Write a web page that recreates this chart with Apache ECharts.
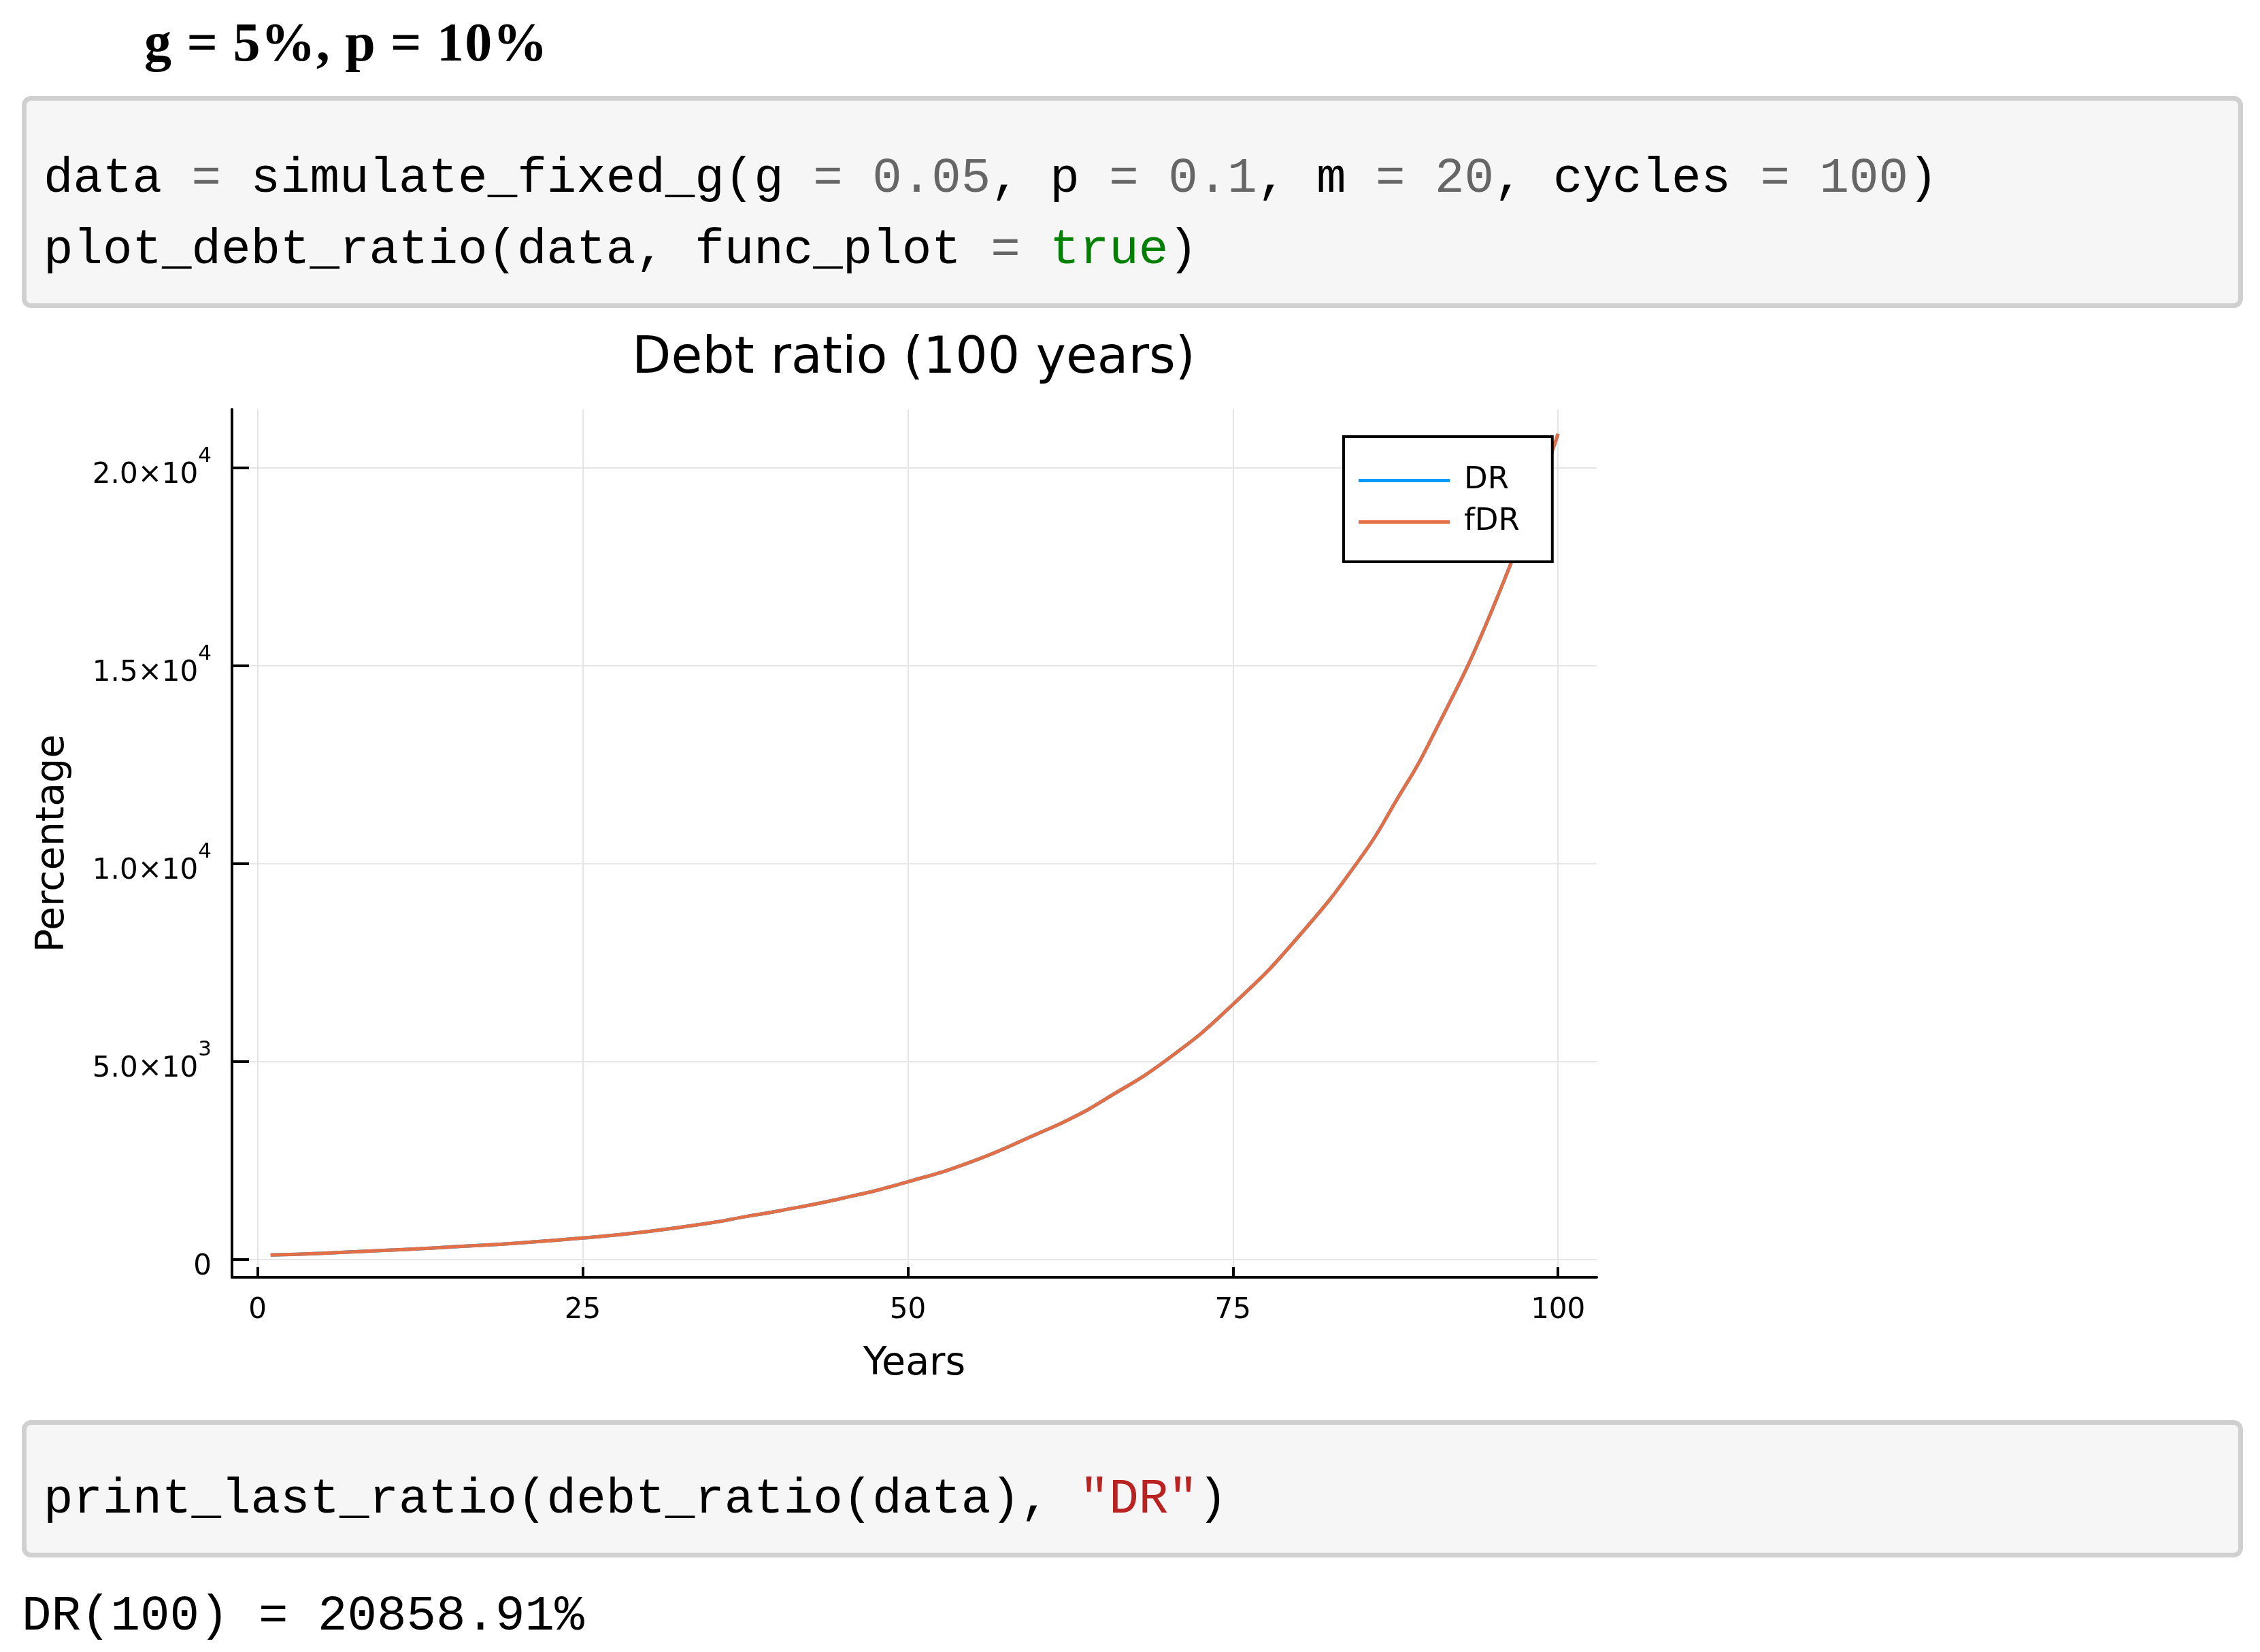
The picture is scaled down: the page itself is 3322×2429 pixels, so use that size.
<!DOCTYPE html>
<html>
<head>
<meta charset="utf-8">
<script src="https://cdn.jsdelivr.net/npm/echarts@6/dist/echarts.min.js"></script>
<style>
html, body { margin: 0; padding: 0; background: #fff; }
body { width: 3322px; height: 2429px; position: relative; overflow: hidden; }
.h { position: absolute; left: 212px; top: 22px; font: bold 80px/1 "Liberation Serif", serif; letter-spacing: 1.2px; color: #000; white-space: pre; }
.cell { position: absolute; left: 32px; width: 3251px; border: 7px solid #d0d0d0; border-radius: 14px; background: #f6f6f6; }
.code { position: absolute; left: 64px; font: 72.5px/1 "Liberation Mono", monospace; white-space: pre; color: #000; }
.op, .num { color: #666; }
.kw { color: #008000; }
.str { color: #ba2121; }
#chart { position: absolute; left: 0; top: 460px; width: 2686px; height: 1600px; }
</style>
</head>
<body>
<div class="h">g = 5%, p = 10%</div>

<div class="cell" style="top:141px;height:298px"></div>
<div class="code" style="top:227px">data <span class="op">=</span> simulate_fixed_g(g <span class="op">=</span> <span class="num">0.05</span>, p <span class="op">=</span> <span class="num">0.1</span>, m <span class="op">=</span> <span class="num">20</span>, cycles <span class="op">=</span> <span class="num">100</span>)</div>
<div class="code" style="top:332px">plot_debt_ratio(data, func_plot <span class="op">=</span> <span class="kw">true</span>)</div>

<div id="chart"></div>

<div class="cell" style="top:2088px;height:188px"></div>
<div class="code" style="top:2169px">print_last_ratio(debt_ratio(data), <span class="str">"DR"</span>)</div>
<div class="code" style="top:2341px;left:32px">DR(100) = 20858.91%</div>

<script>
// values (year -> debt ratio in %)
var years = [1, 5, 10, 12.5, 15, 20, 25, 30, 35, 37.5, 40, 45, 50, 55, 60, 62.5, 65, 70, 75, 80, 85, 87.5, 90, 95, 100];
var drValues = [110, 155, 230, 270, 316, 413, 540, 705, 930, 1080, 1220, 1546, 1960, 2480, 3179, 3552, 4010, 5065, 6443, 8140, 10230, 11560, 12990, 16467, 20859];
var fdrValues = [110, 155, 230, 270, 316, 413, 540, 705, 930, 1080, 1220, 1546, 1960, 2480, 3179, 3552, 4010, 5065, 6443, 8140, 10230, 11560, 12990, 16467, 20859];

var xTicks = [0, 25, 50, 75, 100];
var yTicks = [0, 5000, 10000, 15000, 20000];
var yTickMant = ['0', '5.0×10', '1.0×10', '1.5×10', '2.0×10'];
var yTickExp = ['', '3', '4', '4', '4'];

var FONT = 'DejaVu Sans';

function pairs(xs, ys) {
    return xs.map(function (x, i) { return [x, ys[i]]; });
}

var myChart = echarts.init(document.getElementById('chart'));
var option = {
    animation: false,
    backgroundColor: 'transparent',
    title: {
        text: 'Debt ratio (100 years)',
        left: 'center',
        top: 26,
        textStyle: { fontFamily: FONT, fontSize: 74.5, fontWeight: 'normal', color: '#000' }
    },
    legend: {
        orient: 'vertical',
        left: 1975,
        top: 182,
        data: ['DR', 'fDR'],
        icon: 'rect',
        itemWidth: 134,
        itemHeight: 5,
        itemGap: 16,
        padding: [42, 48, 36, 22],
        borderColor: '#000',
        borderWidth: 4,
        borderRadius: 0,
        backgroundColor: '#fff',
        textStyle: { fontFamily: FONT, fontSize: 45, color: '#000', lineHeight: 44, padding: [0, 0, 0, 16] }
    },
    grid: {
        left: 341,
        top: 142,
        width: 2006,
        height: 1276,
        containLabel: false,
        outerBoundsMode: 'none'
    },
    xAxis: {
        type: 'value',
        min: -1.97,
        max: 102.97,
        name: 'Years',
        nameLocation: 'middle',
        nameGap: 100,
        nameTextStyle: { fontFamily: FONT, fontSize: 57, color: '#000' },
        axisLine: { show: true, onZero: false, lineStyle: { color: '#000', width: 4 } },
        axisTick: { show: true, inside: true, length: 15, customValues: xTicks, lineStyle: { color: '#000', width: 4 } },
        axisLabel: { customValues: xTicks, margin: 28, fontFamily: FONT, fontSize: 42, color: '#000' },
        splitLine: { show: true, lineStyle: { color: '#e6e6e6', width: 2 } }
    },
    yAxis: {
        type: 'value',
        min: -452,
        max: 21475,
        name: 'Percentage',
        nameLocation: 'middle',
        nameRotate: 90,
        nameGap: 234,
        nameTextStyle: { fontFamily: FONT, fontSize: 57, color: '#000' },
        axisLine: { show: true, onZero: false, lineStyle: { color: '#000', width: 4 } },
        axisTick: { show: true, inside: true, length: 25, customValues: yTicks, lineStyle: { color: '#000', width: 4 } },
        axisLabel: {
            customValues: yTicks,
            margin: 30,
            formatter: function (v) {
                var i = yTicks.indexOf(v);
                if (i < 0) return '';
                if (!yTickExp[i]) return '{m|' + yTickMant[i] + '}';
                return '{m|' + yTickMant[i] + '}{s|' + yTickExp[i] + '}';
            },
            rich: {
                m: { fontFamily: FONT, fontSize: 42, color: '#000', lineHeight: 64, verticalAlign: 'bottom' },
                s: { fontFamily: FONT, fontSize: 31, color: '#000', lineHeight: 31, verticalAlign: 'top' }
            }
        },
        splitLine: { show: true, lineStyle: { color: '#e6e6e6', width: 2 } }
    },
    series: [
        {
            name: 'DR',
            type: 'line',
            data: pairs(years, drValues),
            smooth: true,
            showSymbol: false,
            lineStyle: { color: '#009AFA', width: 5 },
            itemStyle: { color: '#009AFA' }
        },
        {
            name: 'fDR',
            type: 'line',
            data: pairs(years, fdrValues),
            smooth: true,
            showSymbol: false,
            lineStyle: { color: '#E26F46', width: 5 },
            itemStyle: { color: '#E26F46' }
        }
    ]
};
myChart.setOption(option);
</script>
</body>
</html>
